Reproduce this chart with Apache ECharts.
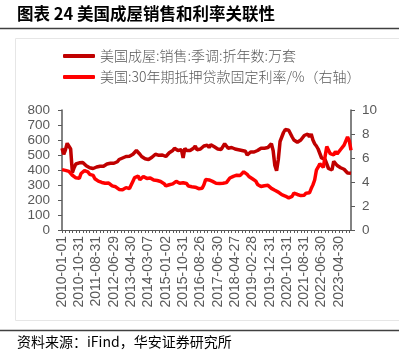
<!DOCTYPE html>
<html><head><meta charset="utf-8">
<script src="https://cdn.jsdelivr.net/npm/echarts@6/dist/echarts.min.js"></script>
<style>html,body{margin:0;padding:0;background:#fff}#c{width:399px;height:358px}</style>
</head><body><div id="c"></div>
<script>
// Tick labels shown on the x axis (every 10th month)
const tickLabels = ['2010-01-01','2010-10-31','2011-08-31','2012-06-29','2013-04-30','2014-03-07','2015-01-02','2015-10-31','2016-08-26','2017-06-30','2018-04-27','2019-02-28','2019-12-31','2020-10-31','2021-08-31','2022-06-30','2023-04-30'];
const startYear = 2010, endYear = 2023;

// 美国成屋销售 季调折年数 (万套), monthly 2010-01 .. 2023-12
const homeSales = [
  545, 505, 535, 578, 575, 540, 383, 415, 440, 435, 448, 452,
  450, 438, 428, 420, 415, 418, 410, 418, 420, 415, 425, 430,
  425, 430, 440, 440, 445, 440, 445, 450, 455, 470, 478, 480,
  485, 490, 488, 492, 495, 505, 515, 530, 520, 505, 490, 485,
  475, 468, 470, 472, 485, 495, 505, 502, 498, 510, 500, 505,
  490, 500, 515, 505, 530, 545, 555, 530, 540, 535, 480, 545,
  530, 520, 530, 540, 545, 560, 535, 530, 540, 550, 560, 555,
  565, 550, 568, 555, 555, 550, 540, 535, 537, 550, 575, 560,
  545, 540, 550, 545, 540, 538, 535, 535, 530, 520, 525, 500,
  495, 520, 520, 520, 530, 530, 540, 545, 540, 545, 540, 550,
  550, 575, 530, 430, 395, 470, 590, 600, 650, 670, 668, 665,
  665, 620, 600, 590, 585, 590, 600, 590, 630, 630, 640, 620,
  640, 600, 575, 560, 540, 510, 480, 480, 470, 440, 410, 405,
  400, 458, 445, 430, 430, 415, 408, 405, 395, 380, 382, 378
];

// 美国 30年期抵押贷款固定利率 (%), monthly 2010-01 .. 2023-12
const mortgageRate = [
  5.03, 4.99, 4.97, 5.10, 4.89, 4.74, 4.56, 4.43, 4.35, 4.23, 4.30, 4.71,
  4.76, 4.95, 4.84, 4.84, 4.64, 4.51, 4.55, 4.27, 4.11, 4.07, 3.99, 3.96,
  3.92, 3.89, 3.95, 3.91, 3.80, 3.68, 3.55, 3.60, 3.50, 3.38, 3.35, 3.35,
  3.41, 3.53, 3.57, 3.45, 3.54, 4.07, 4.37, 4.46, 4.49, 4.19, 4.26, 4.46,
  4.43, 4.30, 4.34, 4.34, 4.19, 4.16, 4.13, 4.12, 4.16, 4.04, 4.00, 3.86,
  3.67, 3.71, 3.77, 3.67, 3.84, 3.98, 4.05, 3.91, 3.89, 3.80, 3.94, 3.96,
  3.87, 3.66, 3.69, 3.61, 3.60, 3.57, 3.44, 3.44, 3.46, 3.47, 3.77, 4.20,
  4.15, 4.17, 4.20, 4.05, 4.01, 3.90, 3.97, 3.88, 3.81, 3.90, 3.92, 3.95,
  4.03, 4.33, 4.44, 4.47, 4.59, 4.57, 4.53, 4.55, 4.63, 4.85, 4.90, 4.64,
  4.46, 4.37, 4.27, 4.14, 4.07, 3.80, 3.77, 3.62, 3.61, 3.69, 3.70, 3.72,
  3.62, 3.47, 3.45, 3.31, 3.23, 3.16, 3.02, 2.94, 2.89, 2.83, 2.77, 2.68,
  2.74, 2.81, 3.08, 3.06, 2.96, 2.98, 2.87, 2.84, 2.90, 3.07, 3.07, 3.10,
  3.45, 3.76, 4.17, 4.98, 5.23, 5.52, 5.41, 5.22, 6.11, 6.95, 6.81, 6.36,
  6.27, 6.26, 6.54, 6.34, 6.43, 6.71, 6.84, 7.07, 7.20, 7.75, 7.44, 6.65
];

const seriesNames = ['美国成屋:销售:季调:折年数:万套', '美国:30年期抵押贷款固定利率/%（右轴）'];
const titleText = '图表 24 美国成屋销售和利率关联性';
const sourceText = '资料来源：iFind，华安证券研究所';

const categories = [];
for (let y = startYear; y <= endYear; y++) {
  for (let m = 1; m <= 12; m++) categories.push(y + '-' + (m < 10 ? '0' + m : m));
}

const axisColor = '#595959';
const latin = '"Liberation Sans", Arial, sans-serif';
const cjk = '"Noto Sans CJK SC", sans-serif';

const chart = echarts.init(document.getElementById('c'), null, {renderer: 'canvas'});
chart.setOption({
  animation: false,
  backgroundColor: '#fff',
  graphic: [
    {type: 'rect', shape: {x: 15.5, y: 38.5, width: 400, height: 282}, style: {fill: 'none', stroke: '#E6E6E6', lineWidth: 1}, silent: true},
    {type: 'text', left: 17, top: 5, style: {text: titleText, font: 'bold 16.5px ' + cjk, fill: '#000'}},
    {type: 'line', shape: {x1: 0, y1: 28.5, x2: 399, y2: 28.5}, style: {stroke: '#404040', lineWidth: 1.5}},
    {type: 'line', shape: {x1: 0, y1: 330.5, x2: 399, y2: 330.5}, style: {stroke: '#404040', lineWidth: 1.5}},
    {type: 'text', left: 17, top: 335, style: {text: sourceText, font: '14px ' + cjk, fill: '#000'}}
  ],
  legend: {
    orient: 'vertical', left: 58, top: 44, itemWidth: 32, itemHeight: 4, itemGap: 7,
    icon: 'roundRect',
    textStyle: {color: axisColor, fontSize: 14, fontFamily: cjk, fontWeight: 300},
    data: seriesNames
  },
  grid: {left: 62, right: 48, top: 110, bottom: 128, containLabel: false},
  xAxis: {
    type: 'category', data: categories, boundaryGap: false,
    axisLine: {lineStyle: {color: axisColor, width: 1}},
    axisTick: {interval: 1, length: 3, lineStyle: {color: axisColor}},
    axisLabel: {
      interval: 9, rotate: 90, margin: 6, color: axisColor, fontSize: 14, fontFamily: latin,
      formatter: function (v, i) { return i % 10 === 0 && tickLabels[i / 10] ? tickLabels[i / 10] : ''; }
    },
    splitLine: {show: false}
  },
  yAxis: [
    {type: 'value', min: 0, max: 800, interval: 100,
      axisLine: {show: true, lineStyle: {color: axisColor, width: 1.5}},
      axisTick: {show: true, length: 4, lineStyle: {color: axisColor}},
      axisLabel: {color: axisColor, fontSize: 13.5, fontFamily: latin, margin: 12},
      splitLine: {show: false}},
    {type: 'value', min: 0, max: 10, interval: 2, position: 'right',
      axisLine: {show: true, lineStyle: {color: axisColor, width: 1.5}},
      axisTick: {show: true, length: 4, lineStyle: {color: axisColor}},
      axisLabel: {color: axisColor, fontSize: 13.5, fontFamily: latin, margin: 11},
      splitLine: {show: false}}
  ],
  series: [
    {name: seriesNames[0], type: 'line', yAxisIndex: 0, data: homeSales, showSymbol: false,
      lineStyle: {color: '#C00000', width: 3.5}, itemStyle: {color: '#C00000'}},
    {name: seriesNames[1], type: 'line', yAxisIndex: 1, data: mortgageRate, showSymbol: false,
      lineStyle: {color: '#FF0000', width: 3.5}, itemStyle: {color: '#FF0000'}}
  ]
});
</script></body></html>
